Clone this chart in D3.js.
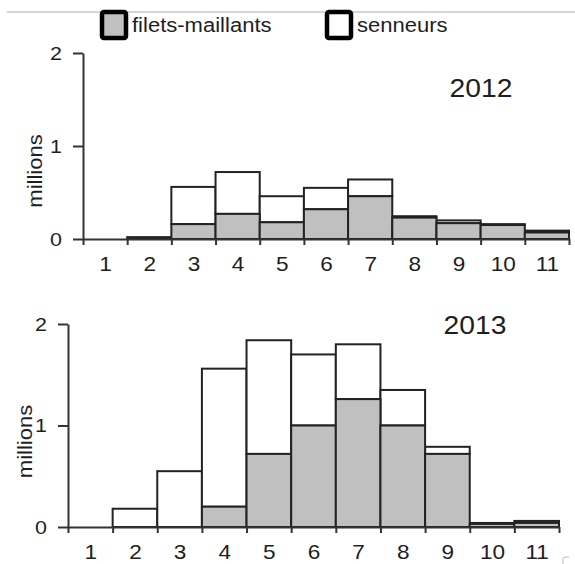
<!DOCTYPE html>
<html>
<head>
<meta charset="utf-8">
<script src="https://cdn.jsdelivr.net/npm/d3@7"></script>
<style>
  body { margin: 0; background: #fff; }
  svg { display: block; font-family: Arial, "Liberation Sans", sans-serif; }
</style>
</head>
<body>
<div class="chart"></div>
<script>
// classes de taille (1..11)
var classes = ["1", "2", "3", "4", "5", "6", "7", "8", "9", "10", "11"];
var yTicks = [0, 1, 2];

// captures (millions)
var filets2012   = [0, 0, 0.16, 0.27, 0.18, 0.32, 0.46, 0.23, 0.17, 0.15, 0.07];
var senneurs2012 = [0, 0.02, 0.40, 0.45, 0.28, 0.23, 0.18, 0.015, 0.03, 0.01, 0.02];
var filets2013   = [0, 0, 0, 0.2, 0.72, 1.0, 1.26, 1.0, 0.72, 0.03, 0.04];
var senneurs2013 = [0, 0.18, 0.55, 1.36, 1.12, 0.70, 0.54, 0.35, 0.07, 0.01, 0.02];

var width = 575, height = 564;
var stretch = 1.13;   // le texte est un peu étiré horizontalement
var ink = '#1e1e1e';
var grey = '#c0c0c0';

var svg = d3.select('.chart').append('svg')
  .attr('width', width)
  .attr('height', height);

function label(g, x, y, txt, size, anchor, rot) {
  var t = 'translate(' + x + ',' + y + ')' + (rot ? ' rotate(' + rot + ')' : '') + ' scale(' + stretch + ',1)';
  return g.append('text')
    .attr('transform', t)
    .attr('text-anchor', anchor || 'start')
    .attr('font-size', size)
    .attr('fill', ink)
    .text(txt);
}

// ligne grise du haut
svg.append('line')
  .attr('x1', 7).attr('x2', width)
  .attr('y1', 12).attr('y2', 12)
  .attr('stroke', '#c8c8c8')
  .attr('stroke-width', 1.5);

// legende
var legend = [
  { name: 'filets-maillants', fill: grey, x: 102 },
  { name: 'senneurs', fill: '#fff', x: 327 }
];
legend.forEach(function(d) {
  svg.append('rect')
    .attr('x', d.x).attr('y', 12)
    .attr('width', 24).attr('height', 26)
    .attr('rx', 2)
    .attr('fill', d.fill)
    .attr('stroke', '#000')
    .attr('stroke-width', 4.5);
  label(svg, d.x + 30, 32, d.name, 19.5);
});

function panel(opts) {
  var g = svg.append('g');

  var x = d3.scaleLinear().domain([0.5, 11.5]).range([opts.left, opts.right]);
  var y = d3.scaleLinear().domain([0, 2]).range([opts.bottom, opts.top]);

  var data = classes.map(function(c, i) {
    return { c: +c, f: opts.filets[i], s: opts.senneurs[i] };
  });

  // barres : filets en bas (gris), senneurs empiles (blanc)
  g.selectAll('.sen').data(data).enter().append('rect')
    .attr('class', 'sen')
    .attr('x', function(d) { return x(d.c - 0.5); })
    .attr('width', function(d) { return x(d.c + 0.5) - x(d.c - 0.5); })
    .attr('y', function(d) { return y(d.f + d.s); })
    .attr('height', function(d) { return y(d.f) - y(d.f + d.s); })
    .attr('fill', '#fff')
    .attr('stroke', '#222')
    .attr('stroke-width', 2)
    .style('display', function(d) { return d.s > 0 ? null : 'none'; });

  g.selectAll('.fil').data(data).enter().append('rect')
    .attr('class', 'fil')
    .attr('x', function(d) { return x(d.c - 0.5); })
    .attr('width', function(d) { return x(d.c + 0.5) - x(d.c - 0.5); })
    .attr('y', function(d) { return y(d.f); })
    .attr('height', function(d) { return y(0) - y(d.f); })
    .attr('fill', grey)
    .attr('stroke', '#222')
    .attr('stroke-width', 2)
    .style('display', function(d) { return d.f > 0 ? null : 'none'; });

  // axe x : graduations aux limites des classes
  var xTickAxis = g.append('g')
    .attr('transform', 'translate(0,' + opts.bottom + ')')
    .call(d3.axisBottom(x)
      .tickValues(d3.range(0.5, 12, 1))
      .tickSize(6)
      .tickSizeOuter(0)
      .tickFormat(''));
  xTickAxis.selectAll('path, line').attr('stroke', '#333').attr('stroke-width', 2);

  // étiquettes des classes au centre
  var xLab = g.append('g')
    .attr('transform', 'translate(0,' + opts.bottom + ')')
    .call(d3.axisBottom(x)
      .tickValues(classes.map(Number))
      .tickSize(0)
      .tickPadding(18)
      .tickFormat(function(d, i) { return classes[i]; }));
  xLab.select('.domain').remove();
  xLab.selectAll('text')
    .attr('font-size', 20)
    .attr('fill', ink)
    .attr('font-family', null)
    .attr('transform', 'scale(' + stretch + ',1)');

  // axe y
  var yAx = g.append('g')
    .attr('transform', 'translate(' + opts.left + ',0)')
    .call(d3.axisLeft(y)
      .tickValues(yTicks)
      .tickFormat(d3.format('d'))
      .tickSize(10)
      .tickSizeOuter(0)
      .tickPadding(11));
  yAx.selectAll('path, line').attr('stroke', '#333').attr('stroke-width', 2);
  yAx.selectAll('text')
    .attr('font-size', 19)
    .attr('fill', ink)
    .attr('font-family', null)
    .attr('x', -21 / stretch)
    .attr('transform', 'scale(' + stretch + ',1)');

  label(g, opts.yLabX, (opts.top + opts.bottom) / 2 + opts.yLabDy, 'millions', 19.5, 'middle', -90);
  label(g, opts.yearX, opts.yearY, opts.year, 25, 'middle');
}

panel({
  left: 83, right: 569, top: 53, bottom: 239,
  filets: filets2012, senneurs: senneurs2012,
  year: '2012', yearX: 481, yearY: 97,
  yLabX: 42, yLabDy: 25
});

panel({
  left: 68, right: 559, top: 324, bottom: 527,
  filets: filets2013, senneurs: senneurs2013,
  year: '2013', yearX: 475, yearY: 334,
  yLabX: 32, yLabDy: 16
});

// petite marque en bas à droite
svg.append('path')
  .attr('d', 'M563,564 V559 Q563,557 566,557 H569')
  .attr('fill', 'none')
  .attr('stroke', '#bbb')
  .attr('stroke-width', 1);
</script>
</body>
</html>
